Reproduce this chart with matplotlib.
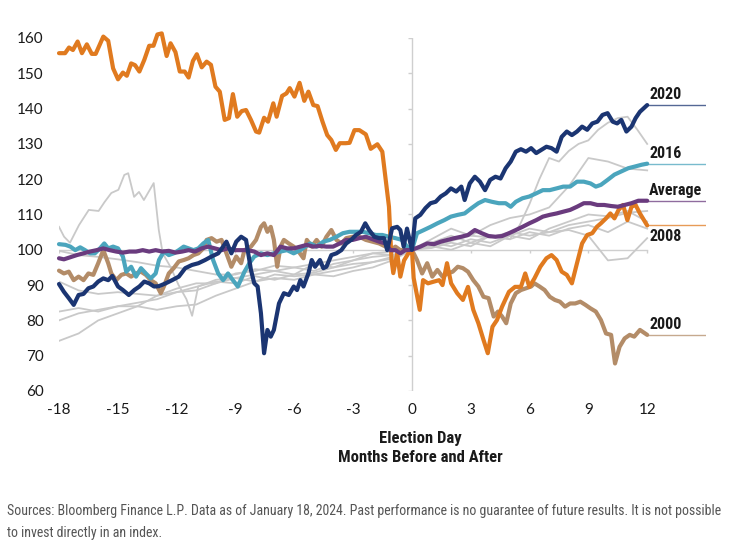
import matplotlib.pyplot as plt
from matplotlib import font_manager

# months before / after election day and index level (100 = election day)
m_2008 = [-18.0, -17.69, -17.49, -17.29, -17.05, -16.83, -16.58, -16.33, -16.13, -15.74, -15.49, -15.24, -14.99,
          -14.74, -14.54, -14.32, -14.12, -13.9, -13.65, -13.4, -13.18, -12.98, -12.76, -12.51, -12.31, -12.06,
          -11.84, -11.59, -11.39, -11.17, -10.97, -10.72, -10.47, -10.25, -10.02, -9.8, -9.55, -9.33, -9.13, -8.91,
          -8.68, -8.46, -8.21, -7.95, -7.79, -7.54, -7.34, -7.07, -6.9, -6.62, -6.4, -6.23, -5.99, -5.73, -5.49,
          -5.28, -5.03, -4.81, -4.56, -4.32, -4.11, -3.88, -3.68, -3.38, -3.18, -2.93, -2.68, -2.35, -2.1, -1.76,
          -1.51, -1.17, -1.04, -0.95, -0.75, -0.59, -0.4, -0.17, 0,
          0.09, 0.4, 0.57, 0.82, 1.13, 1.39, 1.56, 1.79, 2.0, 2.31, 2.6, 2.86, 3.13, 3.39, 3.65, 3.87, 4.11, 4.34,
          4.6, 4.95, 5.26, 5.56, 5.78, 5.99, 6.25, 6.55, 6.86, 7.12, 7.38, 7.64, 7.9, 8.16, 8.42, 8.68, 8.94, 9.2,
          9.43, 9.64, 9.9, 10.12, 10.33, 10.54, 10.77, 10.99, 11.2, 11.41, 11.63, 12.0]
v_2008 = [155.7, 155.7, 157.3, 156.6, 159.0, 155.7, 158.2, 155.5, 155.5, 160.4, 159.2, 151.4, 148.3, 150.2, 149.3,
          152.8, 152.3, 150.5, 153.8, 157.8, 157.8, 161.0, 161.3, 154.9, 158.5, 156.0, 150.5, 150.5, 148.8, 153.5,
          155.4, 151.7, 153.3, 152.4, 146.2, 144.8, 136.8, 137.3, 144.1, 137.7, 139.3, 139.6, 136.8, 133.5, 133.2,
          137.4, 136.3, 141.5, 137.7, 143.6, 144.3, 145.8, 143.4, 147.3, 142.2, 144.8, 141.0, 140.7, 136.3, 132.5,
          131.1, 128.3, 130.2, 130.2, 130.3, 133.9, 133.9, 132.7, 128.6, 129.9, 127.8, 112.2, 97.1, 93.4, 99.0,
          92.4, 97.0, 99.1, 100,
          92.0, 83.0, 91.4, 90.5, 91.0, 91.4, 90.0, 96.2, 90.5, 87.7, 85.8, 89.5, 83.0, 79.2, 74.5, 70.7, 78.2, 80.1,
          83.9, 88.1, 89.5, 89.5, 93.3, 89.5, 91.9, 95.2, 97.6, 98.5, 97.1, 93.8, 92.9, 90.5, 96.2, 101.8, 104.2,
          104.7, 106.5, 107.5, 108.9, 110.3, 108.9, 111.3, 112.7, 108.4, 112.2, 112.7, 110.3, 106.9]

m_2020 = [-18.0, -17.75, -17.5, -17.25, -17.0, -16.75, -16.5, -16.25, -16.0, -15.74, -15.49, -15.28, -14.99, -14.74,
          -14.44, -14.16, -13.9, -13.65, -13.4, -13.15, -12.9, -12.56, -12.23, -11.89, -11.56, -11.22, -10.89,
          -10.55, -10.22, -9.88, -9.63, -9.46, -9.21, -8.96, -8.71, -8.46, -8.21, -8.04, -7.87, -7.7, -7.54, -7.37,
          -7.2, -7.04, -6.78, -6.53, -6.28, -6.03, -5.86, -5.69, -5.53, -5.28, -5.11, -4.94, -4.69, -4.52, -4.36,
          -4.11, -3.85, -3.6, -3.35, -3.1, -2.85, -2.6, -2.38, -2.18, -1.92, -1.67, -1.42, -1.26, -1.01, -0.75,
          -0.59, -0.42, -0.25, 0,
          0.17, 0.43, 0.69, 0.95, 1.21, 1.47, 1.73, 1.99, 2.26, 2.52, 2.69, 2.95, 3.21, 3.47, 3.73, 3.99, 4.26,
          4.52, 4.78, 5.04, 5.3, 5.56, 5.82, 6.08, 6.34, 6.6, 6.86, 7.12, 7.38, 7.64, 7.9, 8.16, 8.42, 8.68, 8.94,
          9.2, 9.46, 9.72, 9.98, 10.24, 10.47, 10.68, 10.94, 11.2, 11.41, 11.63, 12.0]
v_2020 = [90.3, 88.1, 86.3, 84.4, 87.2, 87.5, 89.1, 89.6, 91.0, 91.9, 91.4, 92.6, 89.6, 88.6, 87.2, 88.6, 89.6,
          91.0, 90.5, 89.6, 89.7, 90.5, 91.4, 92.4, 94.8, 95.7, 96.2, 97.1, 98.1, 99.0, 100.9, 102.3, 99.0, 102.3,
          103.7, 102.8, 94.3, 90.5, 89.6, 82.0, 70.7, 77.3, 75.4, 77.3, 84.8, 87.7, 87.2, 89.6, 88.6, 91.4, 89.6,
          93.3, 97.1, 95.2, 97.1, 94.8, 95.2, 98.5, 99.0, 99.9, 101.8, 102.8, 104.2, 105.1, 107.5, 105.6, 103.7,
          103.3, 103.3, 99.9, 106.1, 106.5, 105.6, 100.9, 106.0, 100,
          108.9, 109.9, 111.8, 113.2, 113.6, 115.1, 116.0, 117.4, 116.5, 117.9, 114.1, 118.8, 120.7, 119.3, 116.9,
          119.8, 120.7, 120.2, 123.1, 125.0, 127.8, 128.5, 127.8, 128.8, 127.4, 128.3, 129.2, 128.8, 127.8, 132.0,
          133.5, 132.5, 133.5, 134.9, 134.0, 135.8, 136.3, 138.2, 138.7, 136.3, 135.8, 136.8, 133.5, 134.9, 137.3,
          139.1, 141.0]

m_2016 = [-18.0, -17.67, -17.42, -17.17, -16.92, -16.67, -16.42, -16.17, -15.91, -15.69, -15.49, -15.24, -14.99,
          -14.74, -14.57, -14.32, -14.07, -13.82, -13.57, -13.32, -13.07, -12.9, -12.65, -12.4, -12.15, -11.89,
          -11.64, -11.39, -11.14, -10.89, -10.64, -10.39, -10.14, -9.88, -9.63, -9.38, -9.13, -8.88, -8.54, -8.29,
          -8.04, -7.7, -7.37, -7.04, -6.7, -6.37, -6.03, -5.69, -5.44, -5.19, -4.86, -4.52, -4.19, -3.85, -3.52,
          -3.18, -2.85, -2.51, -2.18, -1.84, -1.51, -1.17, -0.84, -0.5, -0.25, 0,
          0.26, 0.61, 0.95, 1.3, 1.65, 1.99, 2.34, 2.69, 3.04, 3.39, 3.73, 4.08, 4.43, 4.78, 5.04, 5.3, 5.64, 5.99,
          6.34, 6.68, 7.03, 7.38, 7.72, 8.07, 8.42, 8.77, 9.11, 9.38, 9.64, 9.98, 10.33, 10.68, 11.03, 11.38,
          11.72, 12.0]
v_2016 = [101.6, 101.4, 100.9, 99.9, 100.7, 99.9, 99.0, 99.0, 100.4, 101.8, 100.4, 100.9, 100.4, 98.1, 93.8, 95.2,
          92.4, 94.8, 93.3, 91.9, 93.3, 97.1, 99.5, 98.5, 99.0, 99.9, 100.9, 100.4, 99.9, 100.4, 101.8, 102.8, 97.1,
          93.3, 91.4, 93.3, 91.4, 89.6, 93.8, 96.2, 98.1, 99.0, 98.5, 99.0, 99.5, 99.9, 99.0, 99.9, 100.9, 101.8,
          100.9, 102.3, 102.8, 103.7, 104.7, 105.1, 105.1, 105.1, 104.7, 104.2, 104.2, 103.7, 103.3, 102.8, 100.9,
          100,
          104.7, 105.6, 106.5, 107.5, 108.4, 109.4, 109.9, 110.3, 111.8, 113.2, 114.1, 113.6, 113.2, 113.2, 112.2,
          113.6, 114.6, 115.1, 116.0, 116.9, 116.9, 117.4, 117.9, 117.9, 119.3, 119.3, 118.8, 117.9, 118.4, 119.8,
          121.3, 122.2, 123.1, 123.6, 124.1, 124.4]

m_avg = [-18.0, -17.75, -17.42, -17.09, -16.75, -16.42, -16.08, -15.74, -15.41, -15.08, -14.74, -14.41, -14.07,
         -13.73, -13.4, -13.07, -12.73, -12.4, -12.06, -11.72, -11.39, -11.06, -10.72, -10.39, -10.05, -9.71, -9.38,
         -9.05, -8.71, -8.38, -8.04, -7.7, -7.37, -7.04, -6.7, -6.37, -6.03, -5.69, -5.36, -5.03, -4.69, -4.36,
         -4.02, -3.68, -3.35, -3.02, -2.68, -2.35, -2.01, -1.67, -1.34, -1.09, -0.84, -0.59, -0.34, 0,
         0.43, 0.78, 1.13, 1.47, 1.82, 2.17, 2.52, 2.86, 3.21, 3.56, 3.91, 4.26, 4.6, 4.95, 5.3, 5.64, 5.99, 6.34,
         6.68, 7.03, 7.38, 7.72, 8.07, 8.42, 8.77, 9.11, 9.46, 9.81, 10.16, 10.5, 10.85, 11.2, 11.55, 12.0]
v_avg = [97.6, 97.3, 97.9, 98.5, 99.0, 99.5, 99.9, 100.4, 99.9, 99.5, 99.2, 99.5, 99.5, 99.9, 99.5, 99.9, 99.5,
         99.7, 99.2, 99.5, 99.9, 99.5, 100.4, 100.9, 100.4, 99.9, 100.4, 99.9, 99.9, 99.9, 99.5, 98.5, 99.0, 98.5,
         100.9, 100.4, 100.4, 100.9, 101.4, 100.9, 101.1, 100.9, 100.9, 101.8, 102.8, 102.8, 103.3, 103.7, 103.0,
         102.3, 101.8, 99.9, 99.9, 99.0, 99.9, 100,
         100.9, 101.8, 101.6, 102.3, 102.8, 103.3, 103.7, 104.2, 105.6, 104.7, 103.9, 103.7, 103.9, 104.7, 105.6,
         106.5, 107.5, 108.4, 109.4, 109.9, 110.3, 110.8, 111.3, 112.2, 113.2, 113.2, 112.7, 112.7, 112.4, 112.2,
         112.7, 113.2, 113.9, 113.9]

m_2000 = [-18.0, -17.75, -17.5, -17.25, -17.0, -16.75, -16.5, -16.25, -16.0, -15.74, -15.49, -15.33, -15.08, -14.82,
          -14.57, -14.32, -14.07, -13.82, -13.57, -13.32, -13.07, -12.81, -12.65, -12.4, -12.15, -11.89, -11.64,
          -11.39, -11.14, -10.89, -10.64, -10.47, -10.22, -9.96, -9.71, -9.46, -9.21, -8.96, -8.71, -8.54, -8.21,
          -7.95, -7.7, -7.54, -7.37, -7.2, -7.04, -6.87, -6.7, -6.53, -6.28, -6.03, -5.78, -5.53, -5.36, -5.11,
          -4.86, -4.61, -4.36, -4.11, -3.85, -3.6, -3.35, -3.02, -2.68, -2.35, -2.01, -1.67, -1.34, -1.09, -0.84,
          -0.59, 0,
          0.26, 0.52, 0.78, 1.04, 1.3, 1.56, 1.82, 2.08, 2.34, 2.6, 2.86, 3.13, 3.39, 3.65, 3.91, 4.17, 4.39, 4.6,
          4.81, 5.04, 5.3, 5.56, 5.82, 6.08, 6.25, 6.51, 6.77, 7.03, 7.29, 7.55, 7.81, 8.07, 8.33, 8.59, 8.85, 9.11,
          9.38, 9.64, 9.9, 10.16, 10.36, 10.59, 10.85, 11.11, 11.34, 11.63, 12.0]
v_2000 = [94.1, 93.3, 93.8, 91.4, 92.4, 91.4, 93.3, 92.9, 96.2, 99.9, 96.2, 93.3, 91.4, 92.9, 93.3, 92.4, 93.3, 93.8,
          92.9, 91.4, 90.5, 87.7, 89.6, 93.3, 94.8, 96.7, 97.1, 97.6, 98.5, 99.0, 100.4, 102.8, 103.3, 102.3, 102.8,
          99.0, 95.2, 98.1, 96.2, 99.9, 100.9, 102.8, 106.5, 107.5, 105.1, 106.5, 102.8, 95.2, 100.9, 102.8, 101.8,
          100.9, 99.5, 97.6, 102.8, 100.9, 102.8, 100.9, 103.7, 105.6, 102.8, 101.8, 103.3, 103.7, 103.7, 102.8,
          102.3, 101.8, 100.9, 99.9, 100.9, 99.9, 100,
          97.1, 93.3, 96.2, 92.4, 94.3, 92.4, 93.3, 93.8, 95.2, 94.8, 93.8, 91.4, 89.6, 86.7, 86.3, 81.1, 82.5, 81.1,
          79.2, 84.8, 87.7, 88.6, 89.1, 89.6, 90.5, 89.6, 88.6, 86.7, 85.8, 85.3, 83.9, 84.8, 84.8, 85.3, 84.4, 83.4,
          82.5, 80.1, 76.3, 75.9, 67.8, 72.5, 74.9, 75.9, 75.4, 77.3, 75.9]

# other election cycles (grey background lines)
m_grey_a = [-18, -17.74, -17.44, -16.98, -16.48, -15.98, -15.68, -15.33, -14.97, -14.67, -14.47, -14.17, -13.92,
            -13.67, -13.17, -12.91, -12.71, -12.3, -11.9, -11.5, -11.21, -10.9, -10, -9, -8, -7, -6, -5, -4, -3,
            -2, -1, 0, 1, 2, 3, 4, 5, 5.5, 6, 6.5, 7, 7.5, 8, 8.5, 9, 9.5, 10, 10.5, 11, 11.5, 12]
v_grey_a = [106.5, 103.7, 102.0, 107.0, 111.3, 111.0, 113.5, 116.1, 117.0, 121.2, 121.7, 115.0, 116.4, 114.1, 118.9,
            105.6, 99.0, 95.0, 90.0, 86.0, 81.3, 89.6, 91.5, 92.0, 93.0, 94.0, 95.0, 94.0, 96.0, 97.0, 98.0, 98.5,
            100, 102, 104, 102, 104, 103, 107, 113, 120, 126, 125, 128, 130, 131, 134, 136, 137.3, 137.7, 134, 130]
m_grey = list(range(-18, 13))
v_grey_b = [99.7, 98.5, 98, 97.3, 96.5, 95.5, 95, 94, 93, 93, 94.5, 94, 93, 96, 97, 98, 99, 99.5, 100,
            101, 102.5, 104, 103.5, 105, 104, 105, 105.6, 104, 97, 97.6, 103.3]
v_grey_c = [91, 88.5, 87.5, 88, 87.5, 87, 88, 89.5, 91, 90.5, 92.5, 91.5, 93, 93.5, 95, 96, 96.5, 98, 100,
            103, 106, 104, 107, 109, 110, 112, 118, 126, 125, 123, 122.5]
v_grey_d = [82.5, 83.5, 82.5, 84, 84, 83, 84, 84.5, 87, 89, 91, 93, 92.5, 93, 94, 95, 96.5, 97.5, 100,
            102, 101, 103, 102, 104, 106, 105, 107, 108, 109, 110.5, 111]
v_grey_e = [80, 82, 83, 84, 85, 86, 88, 88.5, 90.5, 92, 91, 92, 91.5, 93, 92.5, 94, 95, 97, 100,
            100.5, 102, 101, 104, 103, 105, 104, 106, 107, 105, 108, 106]
v_grey_f = [74.2, 76.3, 80, 82, 84, 87, 89, 90.5, 90.5, 93.3, 94, 95.5, 95, 96, 95, 97, 99, 98.5, 100,
            101, 100, 102, 101, 104, 103, 106, 108, 110, 109.5, 111, 108]

x_ticks = list(range(-18, 13, 3))
y_ticks = list(range(60, 161, 10))

GREY = '#c9c9c9'
AXIS = '#cfcfcf'
c_2020 = '#1b3572'
c_2016 = '#4ba5bd'
c_avg = '#6a3b7e'
c_2008 = '#e07a1f'
c_2000 = '#b38c68'

def pick(*names):
    for n in names:
        try:
            font_manager.findfont(n, fallback_to_default=False)
            return n
        except Exception:
            pass
    return 'DejaVu Sans'

narrow = pick('Liberation Sans Narrow', 'Roboto Condensed', 'Roboto')
num_font = pick('Lato', 'Open Sans')

fig = plt.figure(figsize=(7.46, 5.47), dpi=100)
ax = fig.add_axes([59 / 746, 1 - 391 / 547, (706 - 59) / 746, (391 - 38) / 547])
ax.set_xlim(-18, 15)
ax.set_ylim(60, 160)
for s in ax.spines.values():
    s.set_visible(False)

# axis lines crossing at election day / 100
ax.plot([-18, 12], [100, 100], color=AXIS, lw=1, zorder=1)
ax.vlines(x_ticks, 100, 99.0, color=AXIS, lw=1, zorder=1)
ax.plot([0, 0], [60, 160], color=AXIS, lw=1, zorder=1)
ax.hlines(y_ticks, -0.22, 0, color=AXIS, lw=1, zorder=1)

ax.plot(m_grey_a, v_grey_a, color=GREY, lw=1.3, zorder=2)
for vals in [v_grey_b, v_grey_c, v_grey_d, v_grey_e, v_grey_f]:
    ax.plot(m_grey, vals, color=GREY, lw=1.3, zorder=2)

series = [
    (m_2000, v_2000, c_2000, '2000', 3),
    (m_2016, v_2016, c_2016, '2016', 4),
    (m_2008, v_2008, c_2008, '2008', 5),
    (m_avg, v_avg, c_avg, 'Average', 6),
    (m_2020, v_2020, c_2020, '2020', 7),
]
label_dy = {'2020': 7.5, '2016': 7.5, 'Average': 7.5, '2008': -8, '2000': 7.5}
for mm, vv, col, name, z in series:
    ax.plot(mm, vv, color=col, lw=3.0, zorder=z, solid_joinstyle='round', solid_capstyle='round',
            clip_on=False)
    ax.plot([12, 15], [vv[-1], vv[-1]], color=col, lw=1.0, alpha=0.75, zorder=z)
    ax.annotate(name, (12, vv[-1]), xytext=(1.5, label_dy[name]), textcoords='offset points',
                ha='left', va='center', fontsize=11.5, fontweight='bold', color='#1a1a1a',
                family=narrow)

ax.set_xticks(x_ticks)
ax.set_xticklabels([str(t) for t in x_ticks])
ax.set_yticks(y_ticks)
ax.set_yticklabels([str(t) for t in y_ticks])
ax.tick_params(axis='x', length=0, pad=9, labelsize=11, labelcolor='#1a1a1a')
ax.tick_params(axis='y', length=0, pad=11, labelsize=11, labelcolor='#1a1a1a')
for lab in ax.get_xticklabels() + ax.get_yticklabels():
    lab.set_family(num_font)

fig.text(420 / 746, 1 - 438 / 547, 'Election Day', ha='center', va='center', fontsize=12,
         fontweight='bold', color='#1a1a1a', family=narrow)
fig.text(420 / 746, 1 - 458 / 547, 'Months Before and After', ha='center', va='center', fontsize=12,
         fontweight='bold', color='#1a1a1a', family=narrow)

fig.text(7 / 746, 1 - 511 / 547, 'Sources: Bloomberg Finance L.P. Data as of January 18, 2024. Past performance is '
         'no guarantee of future results. It is not possible', ha='left', va='center', fontsize=10,
         color='#555555', family=narrow)
fig.text(7 / 746, 1 - 533 / 547, 'to invest directly in an index.', ha='left', va='center', fontsize=10,
         color='#555555', family=narrow)

fig.savefig('out.png', dpi=100, facecolor='white')
